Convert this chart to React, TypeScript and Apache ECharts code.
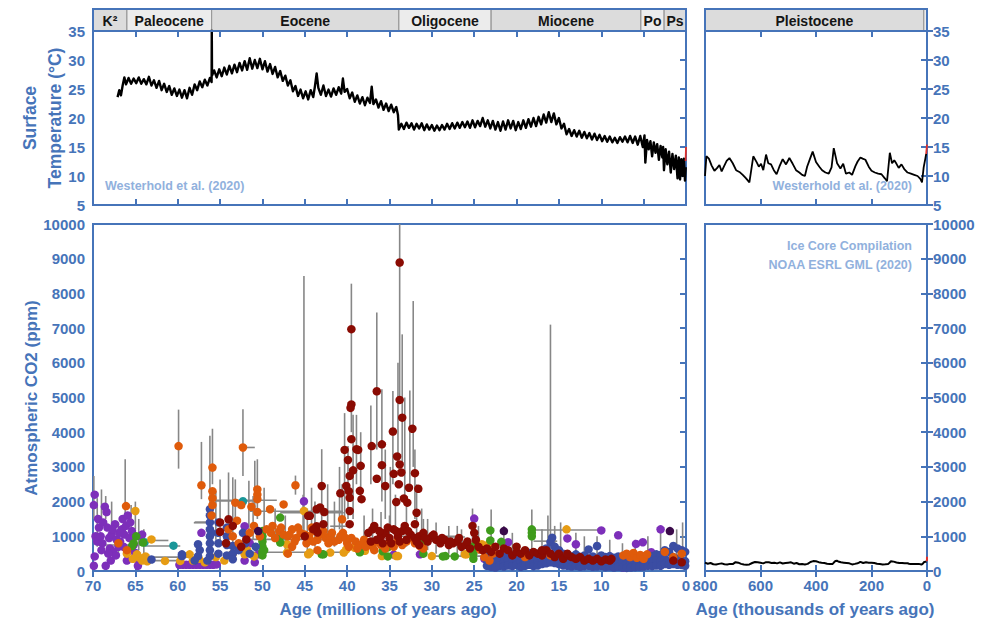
import React, { useEffect, useRef } from "react";
import * as echarts from "echarts";

const BLUE = "#4674b9";
const LIGHT = "#91b1dd";
const GRAY = "#878787";
const FONT = '"Liberation Sans", Arial, sans-serif';

// Epoch header: [start, end, label, fill]
const EPOCHS_MA: [number, number, string, string][] = [
  [70, 66, "K²", "#dcdcdc"],
  [66, 56, "Paleocene", "#ececec"],
  [56, 33.9, "Eocene", "#dcdcdc"],
  [33.9, 23, "Oligocene", "#ececec"],
  [23, 5.33, "Miocene", "#dcdcdc"],
  [5.33, 2.58, "Po", "#ececec"],
  [2.58, 0, "Ps", "#dcdcdc"],
];
const EPOCHS_KA: [number, number, string, string][] = [
  [800, 11.7, "Pleistocene", "#dcdcdc"],
  [11.7, 0, "", "#ececec"],
];

// Surface temperature (Ma, °C) – Westerhold et al. (2020)
const tempMa: [number, number][] = [
  [67.1,23.6],[66.9,24.8],[66.7,23.9],[66.5,25.6],[66.3,27.0],[66.1,25.8],[65.8,26.9],[65.5,25.9],[65.2,26.8],[64.9,26.0],[64.6,27.0],[64.3,25.9],[64.0,26.7],[63.7,25.8],[63.4,27.1],[63.1,25.6],[62.8,26.5],[62.5,25.2],[62.2,26.4],[61.9,24.8],[61.6,25.9],[61.3,24.5],[61.0,25.5],[60.7,24.0],[60.4,25.1],[60.1,23.8],[59.8,24.9],[59.5,23.5],[59.2,24.8],[58.9,23.4],[58.6,25.2],[58.3,24.0],[58.0,25.8],[57.7,24.8],[57.4,26.3],[57.1,25.3],[56.8,26.6],[56.5,25.6],[56.2,26.9],[56.0,26.2],[55.98,35.5],[55.95,27.3],[55.7,28.2],[55.4,27.0],[55.1,28.4],[54.8,27.2],[54.5,28.7],[54.2,27.5],[53.9,29.0],[53.6,27.7],[53.3,29.2],[53.0,27.9],[52.7,29.5],[52.4,28.2],[52.1,29.8],[51.8,28.3],[51.5,30.3],[51.2,28.5],[50.9,30.0],[50.6,28.6],[50.3,30.2],[50.0,28.4],[49.7,29.8],[49.4,28.0],[49.1,29.3],[48.8,27.6],[48.5,28.8],[48.2,27.0],[47.9,28.1],[47.6,26.4],[47.3,27.3],[47.0,25.6],[46.7,26.5],[46.4,24.6],[46.1,25.5],[45.8,23.8],[45.5,24.9],[45.2,23.4],[44.9,24.6],[44.6,23.2],[44.3,24.8],[44.0,23.6],[43.8,25.5],[43.6,27.7],[43.4,25.2],[43.1,24.0],[42.8,25.6],[42.5,23.8],[42.2,24.9],[41.9,23.7],[41.6,25.1],[41.3,24.0],[41.0,25.3],[40.7,24.2],[40.5,26.8],[40.3,24.5],[40.0,25.0],[39.7,23.4],[39.4,24.4],[39.1,22.8],[38.8,23.9],[38.5,22.5],[38.2,23.6],[37.9,22.2],[37.6,23.5],[37.3,22.6],[37.1,25.4],[36.9,22.4],[36.6,23.2],[36.3,21.8],[36.0,22.9],[35.7,21.4],[35.4,22.5],[35.1,21.2],[34.8,22.3],[34.5,21.0],[34.2,21.9],[34.0,20.5],[33.9,18.0],[33.6,19.0],[33.3,18.1],[33.0,19.2],[32.7,18.3],[32.4,19.1],[32.1,18.0],[31.8,19.0],[31.5,18.2],[31.2,19.1],[30.9,17.9],[30.6,18.9],[30.3,18.0],[30.0,18.8],[29.7,17.8],[29.4,18.7],[29.1,17.9],[28.8,18.8],[28.5,18.0],[28.2,19.0],[27.9,18.1],[27.6,19.1],[27.3,18.2],[27.0,19.2],[26.7,18.3],[26.4,19.3],[26.1,18.4],[25.8,19.4],[25.5,18.3],[25.2,19.6],[24.9,18.4],[24.6,19.5],[24.3,18.6],[24.0,20.0],[23.7,18.5],[23.4,19.6],[23.1,18.2],[22.8,19.5],[22.5,18.0],[22.2,19.3],[21.9,17.8],[21.6,19.4],[21.3,18.0],[21.0,19.6],[20.7,18.2],[20.4,19.5],[20.1,17.9],[19.8,19.3],[19.5,18.1],[19.2,19.6],[18.9,18.3],[18.6,19.8],[18.3,18.5],[18.0,20.0],[17.7,18.6],[17.4,20.2],[17.1,18.9],[16.8,20.6],[16.5,19.2],[16.2,21.0],[15.9,19.3],[15.6,20.8],[15.3,18.9],[15.0,20.0],[14.7,18.2],[14.4,19.0],[14.1,17.2],[13.8,18.1],[13.5,16.9],[13.2,17.9],[12.9,16.8],[12.6,17.8],[12.3,16.6],[12.0,17.6],[11.7,16.5],[11.4,17.4],[11.1,16.3],[10.8,17.3],[10.5,16.2],[10.2,17.1],[9.9,16.0],[9.6,16.9],[9.3,15.9],[9.0,16.8],[8.7,15.8],[8.4,16.6],[8.1,15.7],[7.8,16.7],[7.5,15.9],[7.2,16.8],[6.9,15.8],[6.6,16.9],[6.3,15.7],[6.0,16.8],[5.7,15.4],[5.4,16.9],[5.1,15.0],[4.9,17.0],[4.8,12.3],[4.6,16.2],[4.4,14.6],[4.2,16.0],[4.0,13.4],[3.8,15.8],[3.6,14.0],[3.4,15.5],[3.2,12.8],[3.0,15.2],[2.8,13.2],[2.7,15.0],[2.6,11.0],[2.4,14.6],[2.2,12.0],[2.0,14.2],[1.8,10.6],[1.6,13.8],[1.4,11.2],[1.2,13.5],[1.0,9.6],[0.85,13.2],[0.7,9.4],[0.55,12.9],[0.4,10.0],[0.25,13.0],[0.12,9.2],[0.03,11.5],
];
const tempMaModern: [number, number][] = [[0.05, 12.6], [0, 15.0]];

// Surface temperature (ka, °C)
const tempKa: [number, number][] = [
  [800,10.0],[795,13.4],[786,13.0],[776,11.8],[766,10.9],[756,11.4],[748,11.9],[740,10.8],[732,11.6],[722,12.6],[712,13.1],[700,12.2],[688,11.0],[676,10.7],[664,10.2],[652,9.6],[640,8.9],[626,13.4],[614,12.4],[606,11.6],[598,12.1],[590,11.0],[580,13.7],[572,12.2],[562,12.0],[552,11.0],[542,10.3],[532,11.6],[520,12.9],[508,12.0],[496,13.1],[484,12.1],[472,11.0],[460,10.6],[450,10.2],[440,10.0],[432,11.6],[422,12.9],[412,14.2],[400,12.4],[388,11.6],[378,11.0],[366,10.6],[354,10.4],[344,11.5],[336,14.8],[324,12.2],[312,11.3],[302,12.1],[292,10.4],[280,10.6],[270,10.2],[258,11.7],[250,12.5],[240,13.2],[232,13.0],[222,12.8],[210,11.6],[200,10.9],[188,10.6],[176,10.4],[164,10.3],[152,9.6],[144,9.1],[134,14.0],[126,12.2],[118,12.7],[110,12.1],[102,11.4],[92,12.0],[82,11.2],[70,10.6],[58,10.4],[46,10.2],[34,10.0],[24,9.5],[18,8.9],[12,11.5],[6,13.0],[3,13.8],
];
const tempKaModern: [number, number][] = [[3, 13.8], [0, 15.4]];

// Ice core CO2 (ka, ppm)
const iceCore: [number, number][] = [
  [800,240],[790,210],[780,230],[770,195],[760,190],[750,205],[740,220],[730,195],[720,190],[710,205],[700,200],[690,255],[680,240],[670,205],[660,190],[650,180],[640,190],[630,230],[620,260],[610,250],[600,235],[590,220],[580,255],[570,250],[560,230],[550,240],[540,220],[530,250],[520,215],[510,230],[500,240],[490,250],[480,210],[470,230],[460,195],[450,200],[440,190],[430,205],[420,260],[410,285],[400,280],[390,255],[380,240],[370,230],[360,210],[350,200],[340,205],[335,250],[330,290],[325,295],[320,275],[310,250],[300,240],[290,230],[280,220],[270,190],[260,205],[250,225],[245,240],[240,265],[230,230],[220,250],[210,235],[200,240],[190,230],[180,210],[170,200],[160,190],[150,195],[140,205],[135,240],[130,280],[125,275],[120,270],[110,245],[100,230],[90,230],[80,220],[70,225],[65,210],[60,205],[50,200],[40,200],[30,205],[20,185],[15,210],[10,260],[5,265],[2,275],[0.6,280],
];
const iceCoreModern: [number, number][] = [[0.6, 280], [0.2, 320], [0, 410]];

// Paleo CO2 proxies (Ma, ppm) by proxy colour
const purplePts: [number, number][] = [
  [69.8,2200],[69.9,1900],[69.7,1000],[69.5,850],[69.8,420],[69.9,150],[69.3,1250],[69.1,1000],[68.9,800],[68.6,1850],[68.4,1700],[68.3,1250],[68.1,950],[68.0,650],[67.8,1050],[67.6,550],[67.9,300],[67.4,1350],[67.2,900],[67.0,700],[66.8,850],[66.6,1200],[66.5,1500],[66.3,1050],[66.1,1300],[65.9,1600],[65.7,950],[65.6,1400],[65.4,1150],[65.2,750],[65.0,520],[64.8,350],[64.7,150],[64.4,1000],[66.0,300],[68.5,150],[67.3,450],[64.2,1050],[69.4,1500],[68.8,1400],[66.9,1100],[65.5,600],[67.7,1200],[68.2,500],[69.0,600],[66.4,700],
  [59.8,180],[59.4,180],[59.0,180],[58.6,180],[58.2,180],[57.8,180],[57.4,180],[57.0,180],[56.6,180],[56.2,180],[55.8,180],[55.4,190],
  [57.2,1100],[52.1,1290],[52.1,300],[50.9,250],[50.5,480],[51.5,800],[45.1,2010],[31.4,480],[34.5,470],[25.0,1510],[21.0,830],[14.0,940],[13.0,770],[10.0,1170],[8.0,1030],[5.9,780],[5.1,830],[4.1,540],[3.0,1200],[7.4,100],[23.8,350],[11.5,300],
];
const tealPts: [number, number][] = [[63.9,830],[60.5,730],[52.3,2010]];
const darkPurplePts: [number, number][] = [[50.5,1150],[21.5,1150],[1.9,1150]];
const greenPts: [number, number][] = [
  [64.9,1000],[65.2,800],[65.4,720],[64.1,820],[50.0,1150],[50.0,1000],[50.0,850],[50.0,700],[50.0,550],[50.0,450],[49.8,600],[47.9,1540],[47.9,1000],[47.9,820],[43.0,480],[42.8,480],[38.5,540],[38.2,710],[35.8,570],[35.2,420],[35.2,680],[31.0,860],[31.0,500],[28.7,420],[28.4,430],[27.3,420],[25.1,350],[25.1,500],[25.1,710],[25.1,600],[23.1,1170],[23.1,880],[21.8,840],[18.2,1200],[18.2,1100],[18.2,1000],
];
const goldPts: [number, number][] = [
  [65.0,1730],[63.1,910],[64.8,480],[64.5,380],[64.2,300],[63.8,420],[63.6,280],[65.3,350],[66.0,500],[61.5,290],[59.7,290],[58.6,480],[58.2,300],[57.5,350],[56.8,250],[55.5,400],[54.5,300],[53.5,500],[52.1,480],[51.8,600],[51.0,420],[45.1,1730],[44.6,480],[47.1,770],[47.1,530],[44.4,530],[42.0,530],[40.4,530],[40.1,620],[39.1,670],[37.9,580],[35.9,430],[34.2,430],[34.0,430],[30.0,430],[26.1,480],[25.9,480],[24.1,770],[23.3,770],[14.1,1200],[22.5,450],[20.0,300],[12.0,350],
];
const orangePts: [number, number][] = [
  [59.9,3600],[57.2,2470],[55.9,2980],[55.9,2300],[55.9,2100],[55.9,1900],[56.0,1600],[52.3,3560],[50.6,2350],[50.6,2200],[50.6,2070],[50.6,1700],[53.2,1970],[52.5,1900],[51.3,1850],[66.1,1870],[46.1,2470],[49.1,1780],[47.5,1920],[54.0,1200],[53.5,1000],[53.0,1450],[52.8,800],[51.5,1100],[51.0,1300],[50.3,1000],[49.5,1200],[49.0,1100],[48.5,950],[48.0,1150],[47.5,1050],[47.0,1000],[46.5,1200],[46.0,950],[45.5,1100],[45.0,1050],[44.5,1000],[44.0,1150],[43.5,900],[43.0,1050],[42.5,950],[42.0,1000],[41.5,850],[41.0,900],[40.6,1490],[40.5,1100],[40.0,800],[39.5,950],[39.0,850],[38.5,750],[38.0,900],[37.5,800],[37.0,700],[36.5,850],[36.0,750],[35.5,650],[35.0,800],[34.5,700],[34.0,900],[33.5,750],[33.0,850],[32.5,950],[32.0,800],[31.4,720],[31.0,650],[47.0,500],[46.5,700],[43.5,600],[44.8,800],[66.0,600],[67.0,800],[24.3,620],[23.8,400],[23.2,300],[22.8,500],[7.4,450],[7.0,500],[6.6,400],[6.2,520],[5.8,380],[5.4,460],[5.0,350],[4.6,480],[19.0,400],[16.0,450],[1.5,400],[0.5,500],[2.5,550],
  [48.8,1300],[47.8,1250],[46.8,1050],[45.8,1250],[44.2,1250],[42.8,1150],[41.8,1100],[40.8,1000],[39.8,700],[38.8,650],[37.8,700],[36.8,600],[46.2,850],[44.0,850],[42.2,800],[40.2,950],
];
const darkRedPts: [number, number][] = [
  [33.8,8890],[39.5,6970],[39.5,4800],[39.6,4700],[36.5,5180],[33.8,4930],[33.5,4420],[32.3,4100],[34.6,4020],[39.5,3800],[40.3,3490],[38.7,3490],[37.1,3600],[35.9,3650],[38.4,3030],[39.7,2740],[35.9,3050],[33.8,3070],[32.0,2820],[36.5,2660],[35.5,2450],[43.0,2450],[40.1,2450],[40.8,2240],[38.5,2310],[38.3,2070],[34.2,1990],[33.3,2090],[32.7,2400],[33.6,2840],[39.7,2110],[43.2,1830],[42.7,1700],[39.7,1730],[44.4,1590],[42.8,1350],[39.7,1350],[31.8,1680],[32.0,1350],[38.9,3510],[31.6,2370],[32.9,1970],[34.5,2800],[33.9,2500],[34.1,3300],[39.9,3200],[39.3,2900],[39.8,2300],[43.6,1780],[43.6,1290],[43.5,1110],[44.6,1590],[55.0,1400],[55.0,1130],[54.0,1490],[53.5,1300],[51.9,910],[52.5,700],[54.3,800],[45.0,1000],[44.0,1200],
  [37.5,1100],[37.0,1200],[36.5,900],[36.0,1000],[35.5,1100],[35.0,950],[34.5,1200],[34.0,1000],[33.5,1150],[33.0,900],[32.5,1050],[32.0,950],[31.5,1000],[31.0,1100],[30.5,850],[30.0,1000],[29.5,900],[29.0,800],[28.5,900],[28.0,750],[27.5,800],[27.0,850],[26.5,700],[26.0,750],[25.5,650],[25.0,1100],[25.2,1300],[24.8,900],[24.5,700],[24.0,600],[23.5,650],[36.8,1300],[35.2,1250],[33.2,1300],[34.8,800],[31.5,750],
  [37.2,850],[36.2,1150],[35.8,800],[34.2,1150],[33.8,850],[32.8,1150],[31.8,850],[30.8,950],[29.8,1050],[28.8,950],[27.8,850],[26.8,950],[25.8,850],
  [23.0,550],[22.5,700],[22.0,500],[21.5,650],[21.0,600],[20.5,450],[20.0,550],[19.5,500],[19.0,600],[18.5,450],[18.0,550],[17.5,500],[17.0,450],[16.5,600],[16.0,500],[15.5,400],[15.0,500],[14.5,350],[14.0,450],[13.5,400],[13.0,350],[12.5,400],[12.0,300],[11.5,350],[11.0,300],[10.5,350],[10.0,280],[9.5,330],[9.0,300],[8.8,350],[17.0,600],[20.0,700],[14.0,500],[1.5,300],[0.5,250],
];
const bluePts: [number, number][] = [
  [63.1,330],[59.5,430],[59.5,480],[57.6,430],[57.6,770],[57.4,600],[56.2,1780],[56.2,1600],[56.2,1400],[56.2,1200],[56.2,1000],[56.2,800],[56.2,600],[56.2,430],[56.0,1100],[55.2,1400],[55.2,1100],[55.2,800],[55.2,500],[54.2,1250],[54.2,1000],[54.2,750],[54.2,450],[53.5,720],[53.5,500],[53.5,340],[52.8,600],[52.3,1100],[52.0,800],[51.5,500],[50.8,700],[56.5,300],[58.0,300],
  [23.5,450],[23.5,300],[23.5,150],[23.0,500],[23.0,280],[23.0,120],[22.5,420],[22.5,250],[22.5,100],[22.0,480],[22.0,300],[22.0,150],[21.5,400],[21.5,260],[21.5,130],[21.0,450],[21.0,300],[21.0,160],[20.5,420],[20.5,280],[20.5,140],[20.0,500],[20.0,320],[20.0,170],[19.5,430],[19.5,270],[19.5,120],[19.0,460],[19.0,300],[19.0,150],[18.5,520],[18.5,330],[18.5,180],[18.0,450],[18.0,290],[18.0,140],[17.5,500],[17.5,320],[17.5,160],[17.0,560],[17.0,350],[17.0,200],[16.5,650],[16.5,400],[16.5,220],[16.0,830],[16.0,500],[16.0,250],[15.8,960],[15.5,700],[15.5,450],[15.5,230],[15.0,600],[15.0,380],[15.0,200],[14.5,500],[14.5,320],[14.5,160],[14.0,450],[14.0,300],[14.0,150],[13.5,420],[13.5,270],[13.5,130],[13.0,480],[13.0,300],[13.0,150],[12.5,400],[12.5,250],[12.5,120],[12.0,450],[12.0,280],[12.0,140],[11.5,620],[11.5,350],[11.5,150],[11.0,420],[11.0,260],[11.0,120],[10.5,720],[10.5,300],[10.5,130],[10.0,450],[10.0,280],[10.0,150],[9.5,400],[9.5,250],[9.5,110],[9.0,430],[9.0,270],[9.0,130],[8.5,380],[8.5,240],[8.5,100],[8.0,420],[8.0,260],[8.0,120],[7.5,380],[7.5,250],[7.5,100],[7.0,350],[7.0,220],[7.0,90],[6.5,360],[6.5,230],[6.5,100],[6.0,380],[6.0,240],[6.0,110],[5.5,400],[5.5,260],[5.5,120],[5.0,420],[5.0,280],[5.0,130],[4.5,450],[4.5,300],[4.5,150],[4.0,430],[4.0,280],[4.0,140],[3.5,480],[3.5,320],[3.5,160],[3.0,460],[3.0,300],[3.0,150],[2.5,600],[2.5,350],[2.5,200],[2.0,550],[2.0,300],[2.0,180],[1.5,720],[1.5,400],[1.5,200],[1.0,650],[1.0,350],[1.0,180],[0.5,600],[0.5,300],[0.5,170],[0.1,550],[0.1,280],[0.1,150],
];
// Vertical uncertainty: [Ma, low ppm, high ppm]
const co2ErrV: [number, number, number][] = [
  [69.9,1500,2740],[69.5,700,2100],[69.0,1200,2350],[68.5,1500,2160],[67.8,900,2000],[67.0,500,1400],[66.2,1000,3220],[65.5,800,1900],[65.0,1200,2000],[64.6,600,1500],[64.0,400,1200],
  [59.9,2950,4650],[57.2,2070,3720],[55.9,2500,4100],[56.2,1000,3900],[55.5,900,2300],[55.0,800,2640],[54.0,700,2840],[53.5,700,2700],[53.2,1500,2640],[52.3,2740,4660],[51.6,800,2600],[51.1,900,2160],[50.9,1600,3180],[50.6,1500,3220],[49.8,1000,2400],[48.5,900,1800],[46.1,2200,2750],[45.1,1000,8500],[45.2,1200,2200],[44.2,800,2400],[43.0,1000,3510],[42.3,900,2500],[41.5,700,2000],
  [40.6,1000,2500],[40.3,1500,4550],[39.5,4000,8280],[39.3,1500,4500],[38.9,2500,4500],[38.4,2000,4000],[37.2,2500,4770],[36.5,3500,7450],[35.9,2000,5240],[35.5,1500,3500],[34.9,1200,3000],[34.6,2500,5190],[34.0,3000,6000],[33.8,5000,10000],[33.5,3000,6820],[33.2,2000,5000],[32.6,2500,5200],[32.2,3000,7780],[32.0,1500,3500],[31.8,800,2500],[31.2,700,1800],[30.5,600,1500],[29.5,500,1400],[28.0,500,1300],[26.5,400,1200],[25.2,600,1800],[24.5,500,1300],[23.0,400,1770],[21.5,400,1300],[20.5,300,1100],[18.2,400,1770],[17.0,300,1200],[16.3,200,1600],[16.0,300,7100],[15.5,200,1300],[14.8,300,1400],[13.0,200,1100],[12.0,200,1000],[10.5,200,1000],[9.0,200,900],[7.5,200,800],[6.0,200,900],[4.5,300,1000],[3.0,300,1100],[1.1,200,1200],[0.4,300,1400],
  [38.0,600,1600],[37.0,700,1800],[36.0,600,1700],[35.0,700,1600],[34.3,800,2200],[33.0,700,1900],[31.0,600,1500],[27.0,500,1300],[44.7,600,1800],[43.8,700,2000],[47.3,600,1600],[40.9,1200,3000],[39.9,1500,3600],
];
// Horizontal (age) uncertainty: [ppm, older Ma, younger Ma]
const co2ErrH: [number, number, number][] = [
  [3560,52.3,50.9],[2040,55.8,48.3],[2020,55.6,50.3],[1720,51.5,40.5],[1680,47.9,40.4],[1390,58.1,55.8],[1410,58.0,56.4],[880,63.3,61.1],[720,63.9,59.7],[400,63.3,57.4],[910,51.5,40.4],[540,51.5,40.4],[1290,42.0,39.4],[1000,33.6,26.3],[860,31.4,26.3],[430,30.2,23.1],[980,27.9,26.1],[1180,18.2,10.2],[860,18.0,15.2],[750,69.4,64.0],[300,64.0,60.0],
];

const plain = (v: number) => String(v);

function xAx(grid: number, max: number, interval: number, extra: any = {}) {
  return {
    type: "value", gridIndex: grid, min: 0, max, interval, inverse: true,
    axisLine: { show: false }, splitLine: { show: false },
    axisTick: { show: true, inside: true, length: 6, lineStyle: { color: BLUE, width: 2 } },
    axisLabel: { show: false },
    ...extra,
  };
}
function yAx(grid: number, min: number, max: number, interval: number, position: string, ticks: boolean, labels: boolean) {
  return {
    type: "value", gridIndex: grid, min, max, interval, position,
    axisLine: { show: false }, splitLine: { show: false },
    axisTick: { show: ticks, inside: true, length: 6, lineStyle: { color: BLUE, width: 2 } },
    axisLabel: labels
      ? { show: true, color: BLUE, fontWeight: "bold", fontSize: 15, fontFamily: FONT, margin: position === "left" ? 8 : 6, formatter: plain }
      : { show: false },
  };
}
const bottomLabel = { show: true, color: BLUE, fontWeight: "bold", fontSize: 15, fontFamily: FONT, margin: 7, formatter: plain };

function headerRender(epochs: [number, number, string, string][]) {
  return (params: any, api: any) => {
    const e = epochs[params.dataIndex];
    const a = api.coord([api.value(0), 1]);
    const b = api.coord([api.value(1), 0]);
    const x = Math.min(a[0], b[0]);
    const w = Math.abs(b[0] - a[0]);
    const y = Math.min(a[1], b[1]);
    const h = Math.abs(b[1] - a[1]);
    return {
      type: "group",
      children: [
        { type: "rect", shape: { x, y, width: w, height: h }, style: { fill: e[3], stroke: "#9a9a9a", lineWidth: 1.2 } },
        { type: "text", x: x + w / 2, y: y + h / 2 + 1, style: { text: e[2], align: "center", verticalAlign: "middle", font: `bold 14px ${FONT}`, fill: "#151515" } },
      ],
    };
  };
}

const vErrRender = (params: any, api: any) => {
  const p1 = api.coord([api.value(0), api.value(1)]);
  const p2 = api.coord([api.value(0), api.value(2)]);
  return { type: "line", shape: { x1: p1[0], y1: p1[1], x2: p2[0], y2: p2[1] }, style: { stroke: GRAY, lineWidth: 1.6 } };
};
const hErrRender = (params: any, api: any) => {
  const p1 = api.coord([api.value(1), api.value(0)]);
  const p2 = api.coord([api.value(2), api.value(0)]);
  return { type: "line", shape: { x1: p1[0], y1: p1[1], x2: p2[0], y2: p2[1] }, style: { stroke: GRAY, lineWidth: 1.6 } };
};

function scatter(data: [number, number][], color: string) {
  return { type: "scatter", xAxisIndex: 6, yAxisIndex: 6, data, symbolSize: 8.5, itemStyle: { color, opacity: 1 }, z: 3 };
}

export default function App() {
  const ref = useRef<HTMLDivElement>(null);
  useEffect(() => {
    const chart = echarts.init(ref.current!, null, { renderer: "svg" });
    const gridBase = { show: true, borderColor: BLUE, borderWidth: 2, containLabel: false };
    chart.setOption({
      animation: false,
      backgroundColor: "#ffffff",
      textStyle: { fontFamily: FONT },
      grid: [
        { ...gridBase, left: 93, top: 9, width: 593, height: 22, z: 10, backgroundColor: "transparent" },
        { ...gridBase, left: 705, top: 9, width: 222, height: 22, z: 10, backgroundColor: "transparent" },
        { ...gridBase, left: 93, top: 31, width: 593, height: 174 },
        { ...gridBase, left: 705, top: 31, width: 222, height: 174 },
        { ...gridBase, left: 93, top: 224, width: 593, height: 347 },
        { ...gridBase, left: 705, top: 224, width: 222, height: 347 },
      ],
      xAxis: [
        xAx(0, 70, 5, { axisTick: { show: false } }),
        xAx(1, 800, 200, { axisTick: { show: false } }),
        xAx(2, 70, 5, { position: "bottom" }),
        xAx(2, 70, 5, { position: "top" }),
        xAx(3, 800, 200, { position: "bottom" }),
        xAx(3, 800, 200, { position: "top" }),
        xAx(4, 70, 5, { position: "bottom", axisLabel: bottomLabel }),
        xAx(4, 70, 5, { position: "top" }),
        xAx(5, 800, 200, { position: "bottom", axisLabel: bottomLabel }),
        xAx(5, 800, 200, { position: "top" }),
      ],
      yAxis: [
        { type: "value", gridIndex: 0, min: 0, max: 1, show: false },
        { type: "value", gridIndex: 1, min: 0, max: 1, show: false },
        yAx(2, 5, 35, 5, "left", false, true),
        yAx(2, 5, 35, 5, "right", true, false),
        yAx(3, 5, 35, 5, "left", true, false),
        yAx(3, 5, 35, 5, "right", true, true),
        yAx(4, 0, 10000, 1000, "left", false, true),
        yAx(4, 0, 10000, 1000, "right", true, false),
        yAx(5, 0, 10000, 1000, "left", true, false),
        yAx(5, 0, 10000, 1000, "right", true, true),
      ],
      series: [
        { type: "custom", xAxisIndex: 0, yAxisIndex: 0, data: EPOCHS_MA.map((e) => [e[0], e[1]]), encode: { x: [0, 1] }, renderItem: headerRender(EPOCHS_MA) },
        { type: "custom", xAxisIndex: 1, yAxisIndex: 1, data: EPOCHS_KA.map((e) => [e[0], e[1]]), encode: { x: [0, 1] }, renderItem: headerRender(EPOCHS_KA) },
        { type: "line", xAxisIndex: 2, yAxisIndex: 2, data: tempMa, showSymbol: false, lineStyle: { color: "#000", width: 2.4, join: "round" }, clip: true },
        { type: "line", xAxisIndex: 2, yAxisIndex: 2, data: tempMaModern, showSymbol: false, lineStyle: { color: "#e0302a", width: 1.8 } },
        { type: "line", xAxisIndex: 4, yAxisIndex: 4, data: tempKa, showSymbol: false, lineStyle: { color: "#000", width: 1.8 } },
        { type: "line", xAxisIndex: 4, yAxisIndex: 4, data: tempKaModern, showSymbol: false, lineStyle: { color: "#e0302a", width: 1.8 } },
        { type: "custom", xAxisIndex: 6, yAxisIndex: 6, data: co2ErrV, encode: { x: 0, y: [1, 2] }, renderItem: vErrRender, clip: true, z: 2 },
        { type: "custom", xAxisIndex: 6, yAxisIndex: 6, data: co2ErrH, encode: { x: [1, 2], y: 0 }, renderItem: hErrRender, clip: true, z: 2 },
        scatter(purplePts, "#7d2fba"),
        scatter(tealPts, "#1a9698"),
        scatter(goldPts, "#e69c14"),
        scatter(greenPts, "#3f9c1c"),
        scatter(bluePts, "#3b4da3"),
        scatter(orangePts, "#df5b0b"),
        scatter(darkRedPts, "#8a0b03"),
        scatter(darkPurplePts, "#3a0a4a"),
        { type: "line", xAxisIndex: 8, yAxisIndex: 8, data: iceCore, showSymbol: false, lineStyle: { color: "#000", width: 2 } },
        { type: "line", xAxisIndex: 8, yAxisIndex: 8, data: iceCoreModern, showSymbol: false, lineStyle: { color: "#e0302a", width: 2 } },
      ],
      graphic: [
        { type: "text", x: 30, y: 118, rotation: Math.PI / 2, style: { text: "Surface", align: "center", verticalAlign: "middle", font: `bold 17.5px ${FONT}`, fill: BLUE } },
        { type: "text", x: 55, y: 118, rotation: Math.PI / 2, style: { text: "Temperature (°C)", align: "center", verticalAlign: "middle", font: `bold 17.5px ${FONT}`, fill: BLUE } },
        { type: "text", x: 31, y: 398, rotation: Math.PI / 2, style: { text: "Atmospheric CO2 (ppm)", align: "center", verticalAlign: "middle", font: `bold 17px ${FONT}`, fill: BLUE } },
        { type: "text", x: 388, y: 609, style: { text: "Age (millions of years ago)", align: "center", verticalAlign: "middle", font: `bold 17px ${FONT}`, fill: BLUE } },
        { type: "text", x: 815, y: 609, style: { text: "Age (thousands of years ago)", align: "center", verticalAlign: "middle", font: `bold 17px ${FONT}`, fill: BLUE } },
        { type: "text", x: 105, y: 186, style: { text: "Westerhold et al. (2020)", align: "left", verticalAlign: "middle", font: `bold 12.5px ${FONT}`, fill: LIGHT } },
        { type: "text", x: 912, y: 186, style: { text: "Westerhold et al. (2020)", align: "right", verticalAlign: "middle", font: `bold 12.5px ${FONT}`, fill: LIGHT } },
        { type: "text", x: 912, y: 246, style: { text: "Ice Core Compilation", align: "right", verticalAlign: "middle", font: `bold 12.5px ${FONT}`, fill: LIGHT } },
        { type: "text", x: 912, y: 265, style: { text: "NOAA ESRL GML (2020)", align: "right", verticalAlign: "middle", font: `bold 12.5px ${FONT}`, fill: LIGHT } },
      ],
    });
    return () => chart.dispose();
  }, []);
  return <div ref={ref} style={{ position: "absolute", left: 0, top: 0, width: 991, height: 621 }} />;
}
